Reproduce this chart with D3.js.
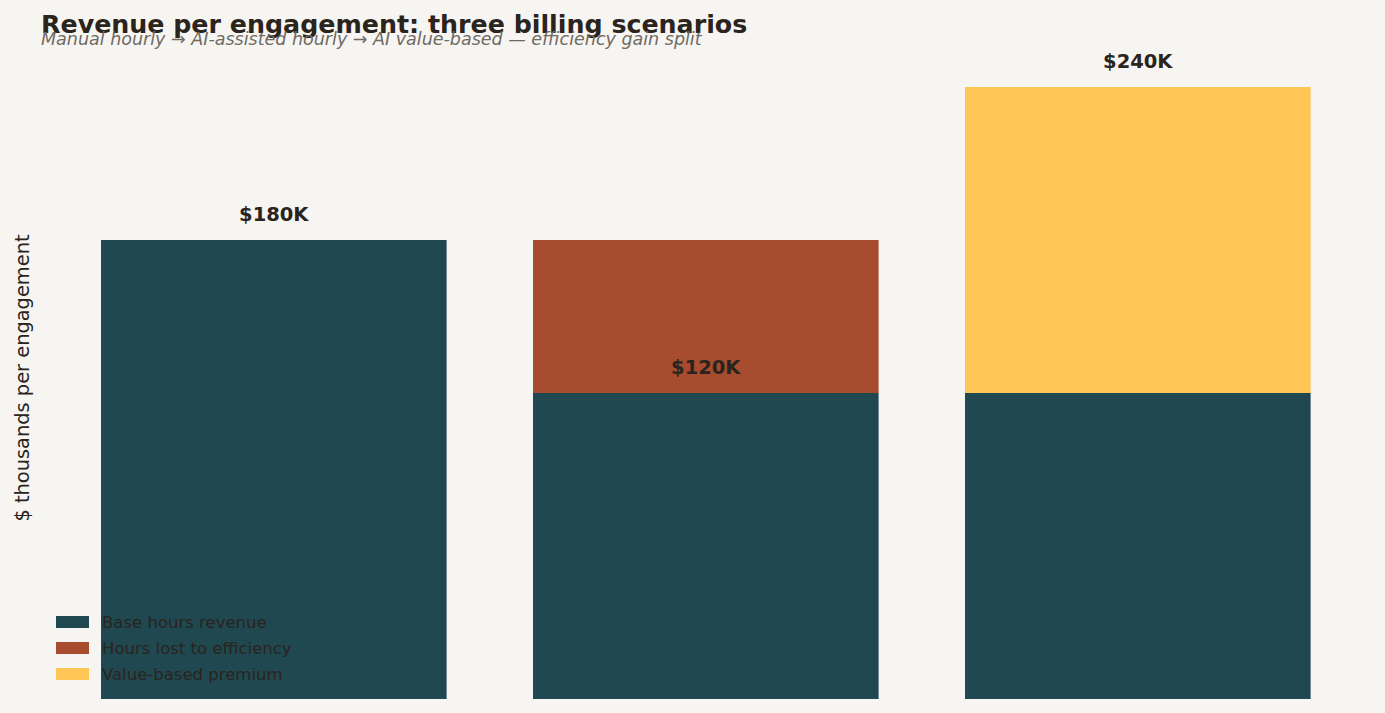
<!DOCTYPE html>
<html>
<head>
<meta charset="utf-8">
<script src="https://cdn.jsdelivr.net/npm/d3@7"></script>
<style>
  body { margin: 0; background: #f7f5f1; }
  svg { display: block; font-family: "DejaVu Sans", sans-serif; }
</style>
</head>
<body>
<svg id="chart" width="1385" height="713"></svg>
<script>
const scenarios = ['Manual hourly', 'AI-assisted hourly', 'AI value-based']
const baseHours = [180, 120, 120]
const hoursLost = [0, 60, 0]
const premium = [0, 0, 120]
const totals = [180, 120, 240]
const totalLabels = ['$180K', '$120K', '$240K']
const seriesNames = ['Base hours revenue', 'Hours lost to efficiency', 'Value-based premium']
const colors = ['#1f4850', '#a84c30', '#ffc555']

const svg = d3.select('#chart')
const width = 1385, height = 713

svg.append('rect').attr('width', width).attr('height', height).attr('fill', '#f7f5f1')

const x = d3.scaleBand().domain(scenarios).range([57.8, 1353.8]).paddingInner(0.2).paddingOuter(0.1)
const y = d3.scaleLinear().domain([0, 240]).range([699, 87])

const rows = scenarios.map((s, i) => ({ s, base: baseHours[i], lost: hoursLost[i], prem: premium[i] }))
const stack = d3.stack().keys(['base', 'lost', 'prem'])(rows)

svg.append('g').selectAll('g').data(stack).enter().append('g')
    .attr('fill', (d, i) => colors[i])
    .selectAll('rect').data(d => d).enter().append('rect')
    .attr('x', d => x(d.data.s))
    .attr('width', x.bandwidth())
    .attr('y', d => y(d[1]))
    .attr('height', d => y(d[0]) - y(d[1]))

svg.append('g').selectAll('text').data(scenarios).enter().append('text')
    .attr('x', d => x(d) + x.bandwidth() / 2)
    .attr('y', (d, i) => y(totals[i]) - 19)
    .attr('text-anchor', 'middle')
    .attr('font-size', 19.5)
    .attr('font-weight', 'bold')
    .attr('fill', '#2a241d')
    .text((d, i) => totalLabels[i])

svg.append('text')
    .attr('transform', 'translate(29,378) rotate(-90)')
    .attr('text-anchor', 'middle')
    .attr('font-size', 19.4)
    .attr('fill', '#2a241d')
    .text('$ thousands per engagement')

svg.append('text')
    .attr('x', 41).attr('y', 33)
    .attr('font-size', 25.3)
    .attr('font-weight', 'bold')
    .attr('fill', '#2a241d')
    .text('Revenue per engagement: three billing scenarios')

svg.append('text')
    .attr('x', 41).attr('y', 45)
    .attr('font-size', 17.5)
    .attr('font-style', 'italic')
    .attr('fill', '#6e6a64')
    .text('Manual hourly → AI-assisted hourly → AI value-based — efficiency gain split')

const legend = svg.append('g').selectAll('g').data(seriesNames).enter().append('g')
    .attr('transform', (d, i) => `translate(56,${616 + i * 26})`)
legend.append('rect').attr('width', 33).attr('height', 12).attr('fill', (d, i) => colors[i])
legend.append('text').attr('x', 46).attr('y', 12)
    .attr('font-size', 16.5).attr('fill', '#2a241d')
    .text(d => d)
</script>
</body>
</html>
